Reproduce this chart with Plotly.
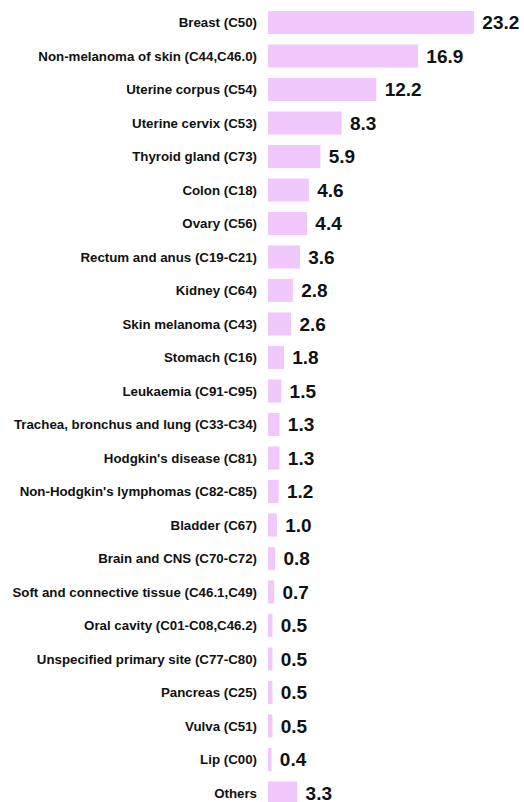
import plotly.graph_objects as go

categories = [
    "Breast (C50)", "Non-melanoma of skin (C44,C46.0)", "Uterine corpus (C54)",
    "Uterine cervix (C53)", "Thyroid gland (C73)", "Colon (C18)", "Ovary (C56)",
    "Rectum and anus (C19-C21)", "Kidney (C64)", "Skin melanoma (C43)",
    "Stomach (C16)", "Leukaemia (C91-C95)", "Trachea, bronchus and lung (C33-C34)",
    "Hodgkin's disease (C81)", "Non-Hodgkin's lymphomas (C82-C85)", "Bladder (C67)",
    "Brain and CNS (C70-C72)", "Soft and connective tissue (C46.1,C49)",
    "Oral cavity (C01-C08,C46.2)", "Unspecified primary site (C77-C80)",
    "Pancreas (C25)", "Vulva (C51)", "Lip (C00)", "Others",
]
values = [23.2, 16.9, 12.2, 8.3, 5.9, 4.6, 4.4, 3.6, 2.8, 2.6, 1.8, 1.5, 1.3, 1.3,
          1.2, 1.0, 0.8, 0.7, 0.5, 0.5, 0.5, 0.5, 0.4, 3.3]
value_labels = [f"{v:.1f}" for v in values]

W, H = 524, 802
left = 268
px_per_unit = 8.88
n = len(categories)
row = 33.5
top_center = 22.5

fig = go.Figure(go.Bar(
    x=values, y=list(range(n)), orientation="h",
    marker=dict(color="#F0C8FC", line=dict(width=0)),
    text=value_labels, textposition="outside", cliponaxis=False,
    texttemplate="\u00a0<b>%{text}</b>",
    textfont=dict(family="Liberation Sans, Arial, sans-serif", size=19, color="#111111"),
    width=0.69, hoverinfo="skip",
))

fig.update_layout(
    width=W, height=H, margin=dict(l=left, r=0, t=0, b=0),
    paper_bgcolor="white", plot_bgcolor="white", showlegend=False,
    font=dict(family="Liberation Sans, Arial, sans-serif"),
)
fig.update_xaxes(range=[0, (W - left) / px_per_unit], visible=False, fixedrange=True)
fig.update_yaxes(
    range=[(H - top_center) / row, -top_center / row],
    tickmode="array", tickvals=list(range(n)), ticktext=[f"<b>{c}</b>" for c in categories],
    tickfont=dict(family="Liberation Sans, Arial, sans-serif", size=13.3, color="#111111"),
    showgrid=False, zeroline=False, showline=False, ticks="", ticklabelstandoff=10,
    automargin=False, fixedrange=True,
)

fig.write_html("out.html", config={"displayModeBar": False},
               post_script="document.body.style.margin='0';document.body.style.overflow='hidden';")
